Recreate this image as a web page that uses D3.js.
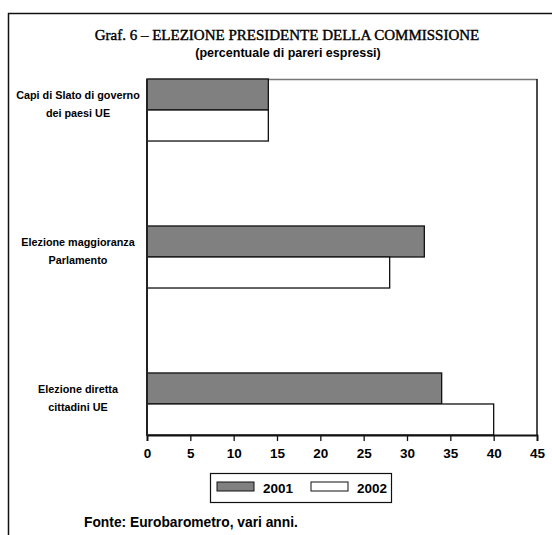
<!DOCTYPE html>
<html><head><meta charset="utf-8">
<script src="https://cdn.jsdelivr.net/npm/d3@7"></script>
<style>body{margin:0;background:#fff}svg{display:block}</style>
</head><body>
<script>
const categories = [["Capi di Slato di governo","dei paesi UE"],["Elezione maggioranza","Parlamento"],["Elezione diretta","cittadini UE"]];
const series = ["2001","2002"];
const values2001 = [14, 32, 34];
const values2002 = [14, 28, 40];
const xTicks = [0,5,10,15,20,25,30,35,40,45];

const W=552,H=535;
const svg=d3.select("body").append("svg").attr("width",W).attr("height",H);
const L=147,R=537,T=79,B=435;
const x=d3.scaleLinear().domain([0,45]).range([L,R]);
const y=d3.scaleBand().domain(d3.range(categories.length)).range([T,B]).paddingInner(0.578).paddingOuter(0);
const sub=d3.scaleBand().domain(series).range([0,y.bandwidth()]);
const fills={"2001":"#808080","2002":"#ffffff"};
const sans="'Liberation Sans', Arial, sans-serif";

// outer frame
svg.append("line").attr("x1",8).attr("x2",W).attr("y1",13.5).attr("y2",13.5).attr("stroke","#111").attr("stroke-width",1.5);
svg.append("line").attr("x1",8.5).attr("x2",8.5).attr("y1",13).attr("y2",H).attr("stroke","#111").attr("stroke-width",1.5);

// title
svg.append("text").attr("x",287).attr("y",40).attr("text-anchor","middle")
  .attr("font-family","'Liberation Serif','DejaVu Serif',serif").attr("font-size",15)
  .attr("stroke","#000").attr("stroke-width",0.4)
  .text("Graf. 6 – ELEZIONE PRESIDENTE DELLA COMMISSIONE");
svg.append("text").attr("x",288).attr("y",57).attr("text-anchor","middle")
  .attr("font-family",sans).attr("font-size",12.5).attr("font-weight","bold")
  .text("(percentuale di pareri espressi)");

// plot border top/right
svg.append("line").attr("x1",L).attr("x2",R).attr("y1",T+0.5).attr("y2",T+0.5).attr("stroke","#777").attr("stroke-width",1.5);
svg.append("line").attr("x1",R).attr("x2",R).attr("y1",T).attr("y2",B).attr("stroke","#111").attr("stroke-width",1.5);

// bars
const data=[];
categories.forEach((c,i)=>{data.push({i,s:"2001",v:values2001[i]});data.push({i,s:"2002",v:values2002[i]});});
svg.append("g").selectAll("rect").data(data).join("rect")
  .attr("x",x(0)).attr("y",d=>y(d.i)+sub(d.s))
  .attr("width",d=>x(d.v)-x(0)).attr("height",sub.bandwidth())
  .attr("fill",d=>fills[d.s]).attr("stroke","#111").attr("stroke-width",1.3);

// x axis
const ax=svg.append("g").attr("transform",`translate(0,${B})`)
  .call(d3.axisBottom(x).tickValues(xTicks).tickSize(6).tickPadding(7).tickFormat(d3.format("d")));
ax.select(".domain").attr("stroke","#111").attr("stroke-width",1.8);
ax.selectAll(".tick line").attr("stroke","#111").attr("stroke-width",1.3);
ax.selectAll("text").attr("font-family",sans).attr("font-size",13.5).attr("font-weight","bold").attr("fill","#000");

// y axis line
svg.append("line").attr("x1",L).attr("x2",L).attr("y1",T).attr("y2",B+1).attr("stroke","#222").attr("stroke-width",2);

// category labels
categories.forEach((c,i)=>{
  const cy=y(i)+y.bandwidth()/2-7;
  c.forEach((line,j)=>{
    svg.append("text").attr("x",78).attr("y",cy+(j-0.5)*18+5).attr("text-anchor","middle")
      .attr("font-family",sans).attr("font-size",10.8).attr("font-weight","bold").text(line);
  });
});

// legend
const lg=svg.append("g");
lg.append("rect").attr("x",210.5).attr("y",473.5).attr("width",181).attr("height",29).attr("fill","#fff").attr("stroke","#111").attr("stroke-width",1.2);
const lx=[217,311];
series.forEach((s,i)=>{
  lg.append("rect").attr("x",lx[i]).attr("y",482).attr("width",37).attr("height",9).attr("fill",fills[s]).attr("stroke","#111").attr("stroke-width",1);
  lg.append("text").attr("x",lx[i]+46).attr("y",493).attr("font-family",sans).attr("font-size",13.5).attr("font-weight","bold").text(s);
});

// source
svg.append("text").attr("x",84).attr("y",527).attr("font-family",sans).attr("font-size",13.8).attr("font-weight","bold")
  .text("Fonte: Eurobarometro, vari anni.");
</script>
</body></html>
